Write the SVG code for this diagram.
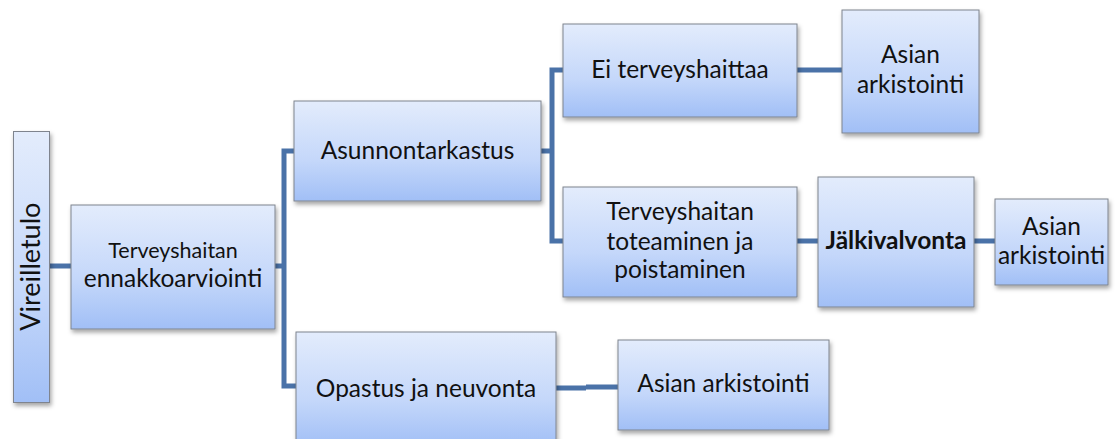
<svg xmlns="http://www.w3.org/2000/svg" width="1119" height="439" viewBox="0 0 1119 439">
<defs>
<linearGradient id="g" x1="0" y1="0" x2="0" y2="1">
<stop offset="0" stop-color="#e3ecfc"/>
<stop offset="0.6" stop-color="#c4d7fa"/>
<stop offset="1" stop-color="#a1bff6"/>
</linearGradient>
<filter id="sh" x="-10%" y="-10%" width="130%" height="130%">
<feDropShadow dx="1.5" dy="3" stdDeviation="2" flood-color="#000" flood-opacity="0.35"/>
</filter>
</defs>
<style>
.box{fill:url(#g);stroke:#7f848e;stroke-width:1;filter:url(#sh)}
.c{fill:none;stroke:#4a72a8;stroke-width:5;stroke-linejoin:miter}
text{font-family:Lato,"Noto Sans","Liberation Sans",sans-serif;fill:#111;text-anchor:middle}
.t{font-size:24.5px}
.b{font-weight:bold}
</style>
<rect width="1119" height="439" fill="#fff"/>
<g id="connectors">
<path class="c" d="M49,266 H71"/>
<path class="c" d="M275,266 H284"/>
<path class="c" d="M294,151 H284 V386 H296"/>
<path class="c" d="M541,151 H552"/>
<path class="c" d="M563,70 H552 V241 H563"/>
<path class="c" d="M797,70 H842"/>
<path class="c" d="M797,241 H818"/>
<path class="c" d="M974,241 H995"/>
<path class="c" d="M556,388 H586 M586,387 H618"/>
</g>
<g id="vireilletulo">
<rect class="box" x="13.5" y="131.5" width="36" height="271"/>
<text transform="translate(40,266.7) rotate(-90)" style="font-size:27px">Vireilletulo</text>
</g>
<g id="ennakkoarviointi">
<rect class="box" x="71" y="205" width="204" height="124"/>
<text x="173" y="258" style="font-size:21.5px">Terveyshaitan</text>
<text x="173" y="287" style="font-size:24.5px">ennakkoarviointi</text>
</g>
<g id="asunnontarkastus">
<rect class="box" x="294" y="101" width="247" height="100"/>
<text class="t" x="417.5" y="159">Asunnontarkastus</text>
</g>
<g id="opastus">
<rect class="box" x="296" y="332" width="260" height="114"/>
<text class="t" x="426" y="397">Opastus ja neuvonta</text>
</g>
<g id="ei-terveyshaittaa">
<rect class="box" x="563" y="24" width="234" height="93"/>
<text class="t" x="680" y="78">Ei terveyshaittaa</text>
</g>
<g id="toteaminen">
<rect class="box" x="563" y="187" width="234" height="110"/>
<text class="t" x="680" y="220">Terveyshaitan</text>
<text class="t" x="680" y="250">toteaminen ja</text>
<text class="t" x="680" y="278">poistaminen</text>
</g>
<g id="jalkivalvonta">
<rect class="box" x="818" y="177" width="156" height="130"/>
<text class="t b" x="896" y="248.5">Jälkivalvonta</text>
</g>
<g id="arkistointi-1">
<rect class="box" x="842" y="10" width="137" height="123"/>
<text class="t" x="910.5" y="63">Asian</text>
<text class="t" x="910.5" y="93">arkistointi</text>
</g>
<g id="arkistointi-3">
<rect class="box" x="995" y="199" width="113" height="86"/>
<text class="t" x="1051.5" y="235">Asian</text>
<text class="t" x="1051.5" y="264">arkistointi</text>
</g>
<g id="arkistointi-2">
<rect class="box" x="618" y="340" width="211" height="90"/>
<text class="t" x="723.5" y="392">Asian arkistointi</text>
</g>
</svg>
